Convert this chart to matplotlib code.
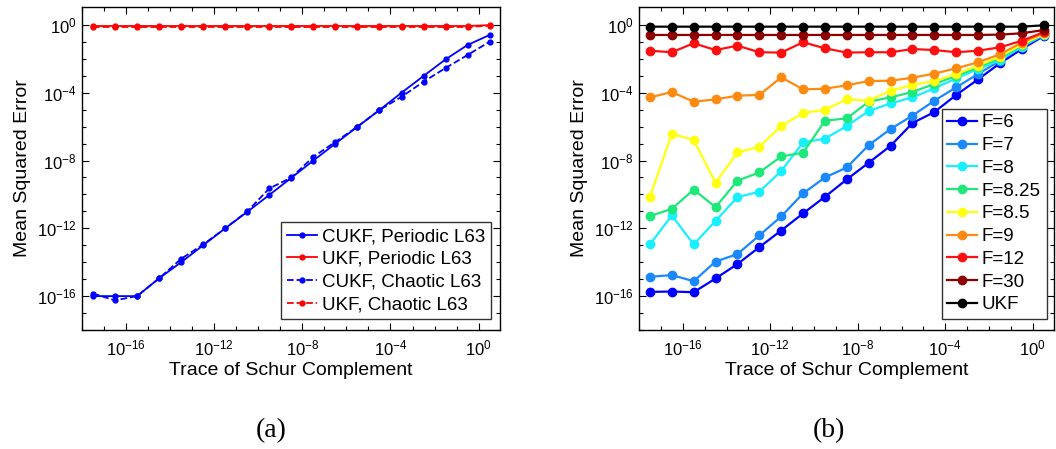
import numpy as np
import matplotlib
matplotlib.use("Agg")
import matplotlib.pyplot as plt

plt.rcParams['font.family'] = ['Liberation Sans', 'DejaVu Sans']
plt.rcParams['mathtext.default'] = 'regular'

# trace of the Schur complement (log10), same grid for both panels
trace_log = [-17.5, -16.5, -15.5, -14.5, -13.5, -12.5, -11.5, -10.5, -9.5, -8.5,
             -7.5, -6.5, -5.5, -4.5, -3.5, -2.5, -1.5, -0.5, 0.5]

# (a) L63, log10 of mean squared error
cukf_periodic = [-16.0, -16.0, -16.0, -14.95, -14.0, -13.0, -12.0, -11.03, -10.03, -9.02,
                 -8.0, -7.0, -6.01, -5.02, -4.0, -3.01, -2.03, -1.18, -0.59]
ukf_periodic = [-0.06, -0.06, -0.06, -0.06, -0.06, -0.06, -0.06, -0.06, -0.06, -0.06,
                -0.06, -0.06, -0.06, -0.06, -0.06, -0.06, -0.06, -0.06, -0.01]
cukf_chaotic = [-15.85, -16.25, -16.0, -14.95, -13.8, -12.95, -12.0, -11.0, -9.65, -9.0,
                -7.78, -6.9, -6.0, -5.02, -4.24, -3.35, -2.54, -1.77, -0.99]
ukf_chaotic = [-0.12, -0.12, -0.12, -0.12, -0.12, -0.12, -0.12, -0.12, -0.12, -0.12,
               -0.12, -0.12, -0.12, -0.12, -0.12, -0.12, -0.12, -0.12, -0.04]

# (b) L96 with different forcing, log10 of mean squared error
f_labels = ['F=6', 'F=7', 'F=8', 'F=8.25', 'F=8.5', 'F=9', 'F=12', 'F=30', 'UKF']
f_colors = ['#0000ff', '#1a88ff', '#19f0ff', '#1ee87a', '#ffff10', '#ff8a10',
            '#ff1010', '#8c0000', '#000000']
mse_f6 = [-15.75, -15.73, -15.77, -14.96, -14.11, -13.11, -12.13, -11.12, -10.14, -9.11,
          -8.13, -7.13, -5.79, -5.14, -4.13, -3.21, -2.26, -1.42, -0.65]
mse_f7 = [-14.86, -14.76, -15.12, -13.96, -13.52, -12.42, -11.30, -9.94, -9.0, -8.41,
          -7.09, -6.14, -5.35, -4.47, -3.68, -2.89, -2.11, -1.28, -0.59]
mse_f8 = [-12.95, -11.24, -12.95, -11.56, -10.16, -9.84, -8.62, -6.93, -6.71, -5.96,
          -5.08, -4.63, -4.27, -3.74, -3.15, -2.60, -2.07, -1.28, -0.59]
mse_f825 = [-11.28, -10.85, -9.72, -10.75, -9.19, -8.70, -7.76, -7.54, -5.65, -5.51,
            -4.53, -4.27, -3.96, -3.48, -3.01, -2.50, -1.95, -1.20, -0.55]
mse_f85 = [-10.14, -6.42, -6.79, -9.31, -7.52, -7.19, -5.96, -5.20, -5.0, -4.39,
           -4.47, -3.88, -3.54, -3.31, -2.89, -2.40, -1.87, -1.14, -0.53]
mse_f9 = [-4.27, -3.96, -4.53, -4.39, -4.17, -4.13, -3.09, -3.80, -3.76, -3.56,
          -3.31, -3.29, -3.11, -2.87, -2.56, -2.20, -1.73, -1.04, -0.49]
mse_f12 = [-1.52, -1.61, -1.08, -1.48, -1.22, -1.61, -1.63, -1.02, -1.38, -1.63,
           -1.61, -1.61, -1.42, -1.48, -1.61, -1.52, -1.32, -0.93, -0.43]
mse_f30 = [-0.59, -0.59, -0.59, -0.59, -0.59, -0.59, -0.59, -0.59, -0.59, -0.59,
           -0.59, -0.59, -0.59, -0.59, -0.59, -0.59, -0.57, -0.49, -0.30]
mse_ukf = [-0.1, -0.1, -0.1, -0.1, -0.1, -0.1, -0.1, -0.1, -0.1, -0.1,
           -0.1, -0.1, -0.1, -0.1, -0.1, -0.1, -0.1, -0.1, -0.02]
l96_series = [mse_f6, mse_f7, mse_f8, mse_f825, mse_f85, mse_f9, mse_f12, mse_f30, mse_ukf]

x = np.power(10.0, trace_log)


def style_axes(ax):
    ax.set_xscale('log')
    ax.set_yscale('log')
    ax.set_xlim(1e-18, 10 ** 0.97)
    ax.set_ylim(1e-18, 10 ** 1.06)
    ax.set_xticks([1e-16, 1e-12, 1e-8, 1e-4, 1e0])
    ax.set_xticklabels([r'$10^{-16}$', r'$10^{-12}$', r'$10^{-8}$', r'$10^{-4}$', r'$10^{0}$'])
    ax.set_yticks([1e-16, 1e-12, 1e-8, 1e-4, 1e0])
    ax.set_yticklabels([r'$10^{-16}$', r'$10^{-12}$', r'$10^{-8}$', r'$10^{-4}$', r'$10^{0}$'])
    ax.set_xticks([10.0 ** e for e in range(-18, 1)], minor=True)
    ax.set_yticks([10.0 ** e for e in range(-18, 1)], minor=True)
    ax.xaxis.set_minor_formatter(matplotlib.ticker.NullFormatter())
    ax.yaxis.set_minor_formatter(matplotlib.ticker.NullFormatter())
    ax.tick_params(which='both', direction='in', top=True, right=True,
                   labelsize=12, width=0.8)
    ax.tick_params(axis='x', which='both', pad=6)
    ax.tick_params(axis='y', which='both', pad=4)
    ax.tick_params(which='major', length=5)
    ax.tick_params(which='minor', length=3)
    for s in ax.spines.values():
        s.set_linewidth(1.0)
    ax.set_xlabel('Trace of Schur Complement', fontsize=14, labelpad=3)
    ax.set_ylabel('Mean Squared Error', fontsize=14, labelpad=4)


fig = plt.figure(figsize=(10.56, 4.49), dpi=100)
ax1 = fig.add_axes([82 / 1056, 1 - 330 / 449, 418 / 1056, 323 / 449])
ax2 = fig.add_axes([639 / 1056, 1 - 330 / 449, 415 / 1056, 323 / 449])

# (a)
ax1.plot(x, np.power(10.0, cukf_periodic), '-', color='#0000ff', lw=1.3,
         marker='o', ms=3.5, label='CUKF, Periodic L63')
ax1.plot(x, np.power(10.0, ukf_periodic), '-', color='#ff0000', lw=1.3,
         marker='o', ms=3.5, label='UKF, Periodic L63')
ax1.plot(x, np.power(10.0, cukf_chaotic), '--', color='#0000ff', lw=1.3,
         marker='o', ms=3.5, label='CUKF, Chaotic L63')
ax1.plot(x, np.power(10.0, ukf_chaotic), '--', color='#ff0000', lw=1.3,
         marker='o', ms=3.5, label='UKF, Chaotic L63')
style_axes(ax1)
ax1.legend(loc='lower right', bbox_to_anchor=(0.9785, 0.034), borderaxespad=0,
           fontsize=13.5, fancybox=False, framealpha=1, edgecolor='#333333',
           handlelength=1.6, handletextpad=0.3, labelspacing=0.3, borderpad=0.3)

# (b)
for vals, lab, c in zip(l96_series, f_labels, f_colors):
    ax2.plot(x, np.power(10.0, vals), '-', color=c, lw=1.6,
             marker='o', ms=6, label=lab)
style_axes(ax2)
ax2.legend(loc='lower right', bbox_to_anchor=(0.982, 0.034), borderaxespad=0,
           fontsize=13.5, fancybox=False, framealpha=1, edgecolor='#333333',
           handlelength=1.6, handletextpad=0.25, labelspacing=0.3, borderpad=0.3)

fig.text(271 / 1056, 1 - 431 / 449, '(a)', family='Liberation Serif',
         fontsize=20, ha='center', va='center')
fig.text(829 / 1056, 1 - 431 / 449, '(b)', family='Liberation Serif',
         fontsize=20, ha='center', va='center')

fig.savefig('out.png', dpi=100)
